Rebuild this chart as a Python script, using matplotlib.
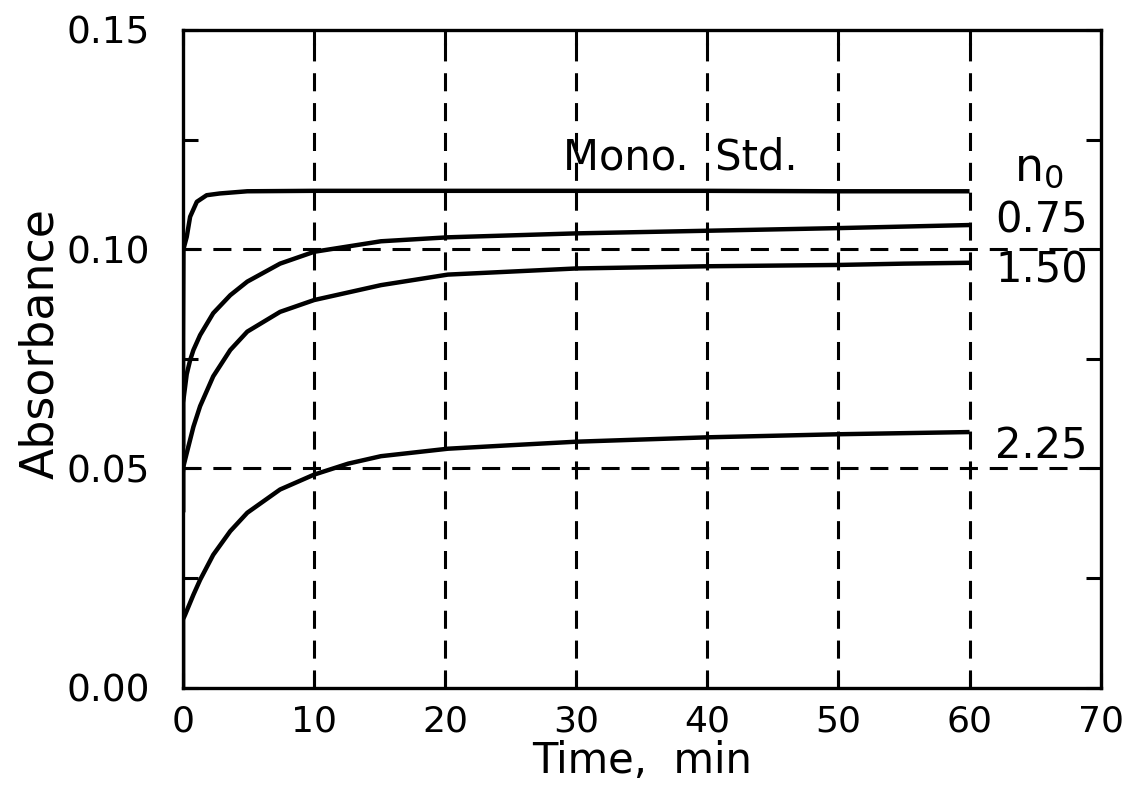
import matplotlib
matplotlib.use("Agg")
import matplotlib.pyplot as plt
from matplotlib.ticker import MultipleLocator

# Data
t_mono = [0.0, 0.0, 0.03, 0.28, 0.54, 1.05, 1.8, 2.8, 4.9, 10, 20, 30, 40, 50, 60]
a_mono = [0.040, 0.080, 0.100, 0.1028, 0.1074, 0.1108, 0.1123, 0.1127, 0.1132, 0.1133, 0.1133, 0.1133, 0.1133, 0.1132, 0.1132]

t_075 = [0.0, 0.0, 0.28, 0.54, 0.79, 1.3, 2.3, 3.6, 4.9, 7.4, 10, 15.1, 20.2, 30, 40, 50, 60]
a_075 = [0.055, 0.065, 0.0715, 0.0747, 0.0770, 0.0804, 0.0854, 0.0895, 0.0926, 0.0967, 0.0994, 0.1018, 0.1027, 0.1036, 0.1042, 0.1048, 0.1055]

t_150 = [0.0, 0.0, 0.03, 0.28, 0.79, 1.3, 2.3, 3.6, 4.9, 7.4, 10, 15.1, 20.2, 30, 40, 50, 55, 60]
a_150 = [0.040, 0.049, 0.0505, 0.0535, 0.0595, 0.0642, 0.0710, 0.0770, 0.0812, 0.0857, 0.0884, 0.0918, 0.0942, 0.0956, 0.0961, 0.0964, 0.0967, 0.0969]

t_225 = [0.0, 0.0, 0.03, 0.15, 0.79, 1.3, 2.3, 3.6, 4.9, 7.4, 10, 12.6, 15.1, 20.2, 25, 30, 40, 50, 60]
a_225 = [0.0, 0.0155, 0.0158, 0.0166, 0.0212, 0.0246, 0.0303, 0.0357, 0.0399, 0.0452, 0.0486, 0.0511, 0.0528, 0.0545, 0.0553, 0.0561, 0.0571, 0.0578, 0.0583]

curve_labels = ["0.75", "1.50", "2.25"]
x_ticks = [0, 10, 20, 30, 40, 50, 60, 70]
y_ticks = [0.00, 0.05, 0.10, 0.15]
x_grid = [10, 20, 30, 40, 50, 60]
y_grid = [0.05, 0.10]

plt.rcParams['font.family'] = ['DejaVu Sans']
plt.rcParams['lines.scale_dashes'] = False

fig = plt.figure(figsize=(11.3, 7.86), dpi=100)
ax = fig.add_axes([0.162, 0.125, 0.812, 0.837])

dash = (0, (13, 8.5))
for xv in x_grid:
    ax.axvline(xv, color='black', lw=2.2, linestyle=dash, zorder=1)
for yv in y_grid:
    ax.axhline(yv, color='black', lw=2.2, linestyle=dash, zorder=1)

lw = 3.2
for tt, aa in [(t_mono, a_mono), (t_075, a_075), (t_150, a_150), (t_225, a_225)]:
    ax.plot(tt, aa, color='black', lw=lw, zorder=3, solid_capstyle='butt',
            solid_joinstyle='round')

ax.set_xlim(0, 70)
ax.set_ylim(0, 0.15)
ax.set_xticks(x_ticks)
ax.set_yticks(y_ticks)
ax.set_xticklabels([str(v) for v in x_ticks])
ax.set_yticklabels([f"{v:.2f}" for v in y_ticks])
ax.yaxis.set_minor_locator(MultipleLocator(0.025))

ax.tick_params(which='both', direction='in', top=True, right=True,
               length=11, width=2.2)
ax.tick_params(axis='y', labelsize=27, pad=24)
ax.tick_params(axis='x', labelsize=26, pad=12)
for s in ax.spines.values():
    s.set_linewidth(2.4)

ax.set_xlabel("Time,  min", fontsize=30, labelpad=1)
ax.set_ylabel("Absorbance", fontsize=33)
ax.yaxis.set_label_coords(-0.131, 0.524)

ax.text(37.9, 0.1210, "Mono.  Std.", fontsize=30, ha='center', va='center', zorder=4)
ax.text(65.3, 0.1185, "n$_0$", fontsize=33, ha='center', va='center', zorder=4)
ax.text(65.5, 0.1066, curve_labels[0], fontsize=30, ha='center', va='center', zorder=4)
ax.text(65.5, 0.0952, curve_labels[1], fontsize=30, ha='center', va='center', zorder=4)
ax.text(65.5, 0.0549, curve_labels[2], fontsize=30, ha='center', va='center', zorder=4)

fig.savefig("out.png", dpi=100)
